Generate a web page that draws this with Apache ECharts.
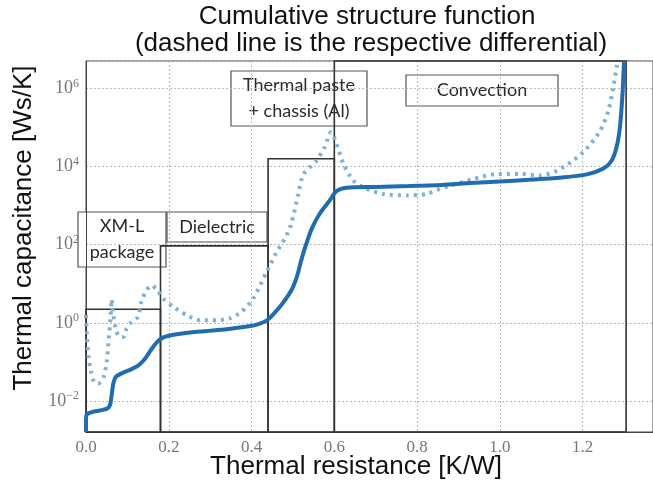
<!DOCTYPE html>
<html>
<head>
<meta charset="utf-8">
<script src="https://cdn.jsdelivr.net/npm/echarts@6/dist/echarts.min.js"></script>
<style>
  html, body { margin: 0; padding: 0; background: #fff; }
  #chart { width: 653px; height: 487px; }
</style>
</head>
<body>
<div id="chart"></div>
<script>
// thermal resistance [K/W] and log10 of thermal capacitance [Ws/K]
var cumX = [0.0, 0.0, 0.003, 0.018, 0.05, 0.058, 0.062, 0.066, 0.072, 0.086, 0.11, 0.125, 0.14, 0.155, 0.171, 0.187,
  0.219, 0.275, 0.34, 0.385, 0.41, 0.436, 0.455, 0.475, 0.497, 0.51, 0.52, 0.53, 0.545, 0.565, 0.59, 0.605,
  0.63, 0.7, 0.78, 0.86, 0.93, 1.0, 1.07, 1.15, 1.21, 1.25, 1.27, 1.282, 1.29, 1.296, 1.30];
var cumExp = [-2.79, -2.45, -2.33, -2.27, -2.2, -2.1, -1.85, -1.55, -1.38, -1.29, -1.18, -1.1, -0.95, -0.72, -0.5, -0.37,
  -0.29, -0.22, -0.16, -0.1, -0.05, 0.06, 0.25, 0.5, 0.85, 1.2, 1.6, 1.95, 2.4, 2.8, 3.15, 3.37,
  3.46, 3.48, 3.5, 3.53, 3.58, 3.62, 3.66, 3.72, 3.8, 3.95, 4.15, 4.5, 5.0, 5.8, 6.7];

var diffX = [0, 0.002, 0.006, 0.012, 0.02, 0.03, 0.042, 0.05, 0.055, 0.059, 0.062, 0.066, 0.072, 0.08, 0.09, 0.098,
  0.11, 0.125, 0.134, 0.147, 0.159, 0.171, 0.187, 0.211, 0.243, 0.275, 0.316, 0.348, 0.375, 0.404, 0.436, 0.46,
  0.48, 0.495, 0.513, 0.525, 0.557, 0.577, 0.592, 0.603, 0.622, 0.646, 0.678, 0.718, 0.775, 0.823, 0.855, 0.879,
  0.936, 0.992, 1.048, 1.097, 1.137, 1.177, 1.209, 1.242, 1.262, 1.274, 1.282, 1.285];
var diffExp = [0.2, -0.27, -0.85, -1.25, -1.52, -1.55, -1.4, -1.0, -0.4, 0.1, 0.6, 0.2, -0.15, -0.35, -0.36, -0.15,
  0.02, 0.15, 0.55, 0.85, 0.96, 0.85, 0.62, 0.41, 0.2, 0.07, 0.07, 0.12, 0.28, 0.62, 1.3, 1.8,
  2.15, 2.5, 3.3, 3.8, 4.15, 4.5, 4.88, 4.65, 4.07, 3.64, 3.43, 3.3, 3.26, 3.3, 3.43, 3.51,
  3.68, 3.81, 3.81, 3.77, 3.89, 4.15, 4.45, 4.91, 5.42, 6.02, 6.53, 6.7];

// regions of the structure function (rectangles)
var regionStart = [0.0, 0.18, 0.44, 0.6];
var regionEnd = [0.18, 0.44, 0.6, 1.305];
var regionTopExp = [0.35, 1.97, 4.2, 6.7];

var yMinExp = -2.79;
var yMaxExp = 6.7;

function pairs(xs, ys) {
  var out = [];
  for (var i = 0; i < xs.length; i++) out.push([xs[i], ys[i]]);
  return out;
}

var areas = [];
for (var i = 0; i < regionStart.length; i++) {
  areas.push([{ xAxis: regionStart[i], yAxis: yMinExp }, { xAxis: regionEnd[i], yAxis: regionTopExp[i] }]);
}

var chart = echarts.init(document.getElementById('chart'));

var boxStyle = { fill: '#fff', stroke: '#555', lineWidth: 1.2 };
var labelFont = '18px Lato';
var titleFont = '26px "Liberation Sans"';

function labelBox(x, y, w, h, text) {
  return {
    type: 'group', z: 100,
    children: [
      { type: 'rect', shape: { x: x, y: y, width: w, height: h }, style: boxStyle },
      { type: 'text', x: x + w / 2, y: y + h / 2,
        style: { text: text, font: labelFont, fill: '#2a2a2a', align: 'center', verticalAlign: 'middle', lineHeight: 26 } }
    ]
  };
}

var option = {
  animation: false,
  backgroundColor: '#fff',
  grid: { left: 86, right: 0, top: 61, bottom: 55, show: true, borderColor: '#444', borderWidth: 1 },
  xAxis: {
    type: 'value', min: 0, max: 1.37, interval: 0.2,
    axisLine: { onZero: false, lineStyle: { color: '#444' } },
    axisTick: { show: false },
    axisLabel: {
      showMaxLabel: false, margin: 7,
      fontFamily: 'Liberation Serif', fontSize: 17, color: '#777',
      formatter: function (v) { return v.toFixed(1); }
    },
    splitLine: { lineStyle: { color: '#bbb', type: [2, 2] } }
  },
  yAxis: {
    type: 'value', min: yMinExp, max: yMaxExp, splitNumber: 5,
    axisLine: { onZero: false, lineStyle: { color: '#444' } },
    axisTick: { show: false },
    axisLabel: {
      margin: 7, showMinLabel: false, showMaxLabel: false,
      formatter: function (v) {
        if (Math.abs(v - Math.round(v)) > 1e-6) return '';
        var e = Math.round(v);
        return '{b|10}{s|' + (e < 0 ? '\u2212' + (-e) : e) + '}';
      },
      rich: {
        b: { fontFamily: 'Liberation Serif', fontSize: 18, color: '#777' },
        s: { fontFamily: 'Liberation Serif', fontSize: 12, color: '#777', padding: [0, 0, 10, 0] }
      }
    },
    splitLine: { lineStyle: { color: '#bbb', type: [2, 2] } }
  },
  graphic: [
    { type: 'text', x: 367, y: 17, z: 100,
      style: { text: 'Cumulative structure function', font: titleFont, fill: '#111', align: 'center', verticalAlign: 'middle' } },
    { type: 'text', x: 371, y: 44, z: 100,
      style: { text: '(dashed line is the respective differential)', font: titleFont, fill: '#111', align: 'center', verticalAlign: 'middle' } },
    { type: 'text', x: 356, y: 467, z: 100,
      style: { text: 'Thermal resistance [K/W]', font: titleFont, fill: '#111', align: 'center', verticalAlign: 'middle' } },
    { type: 'text', x: 24, y: 228, rotation: Math.PI / 2, z: 100,
      style: { text: 'Thermal capacitance [Ws/K]', font: titleFont, fill: '#111', align: 'center', verticalAlign: 'middle' } },
    labelBox(78, 212, 88, 55, 'XM-L\npackage'),
    labelBox(167, 212, 100, 30, 'Dielectric'),
    labelBox(231, 71, 136, 55, 'Thermal paste\n+ chassis (Al)'),
    labelBox(406, 75, 152, 31, 'Convection')
  ],
  series: [
    {
      type: 'line', data: pairs(diffX, diffExp), showSymbol: false, smooth: 0.25, z: 3,
      lineStyle: { color: '#7fb1d8', width: 4, type: [3, 5] }
    },
    {
      type: 'line', data: pairs(cumX, cumExp), showSymbol: false, smooth: 0.25, z: 4,
      lineStyle: { color: '#1f6db0', width: 4 },
      markArea: {
        silent: true,
        itemStyle: { color: 'rgba(0,0,0,0)', borderColor: '#333', borderWidth: 1.6 },
        data: areas
      }
    }
  ]
};

chart.setOption(option);
</script>
</body>
</html>
